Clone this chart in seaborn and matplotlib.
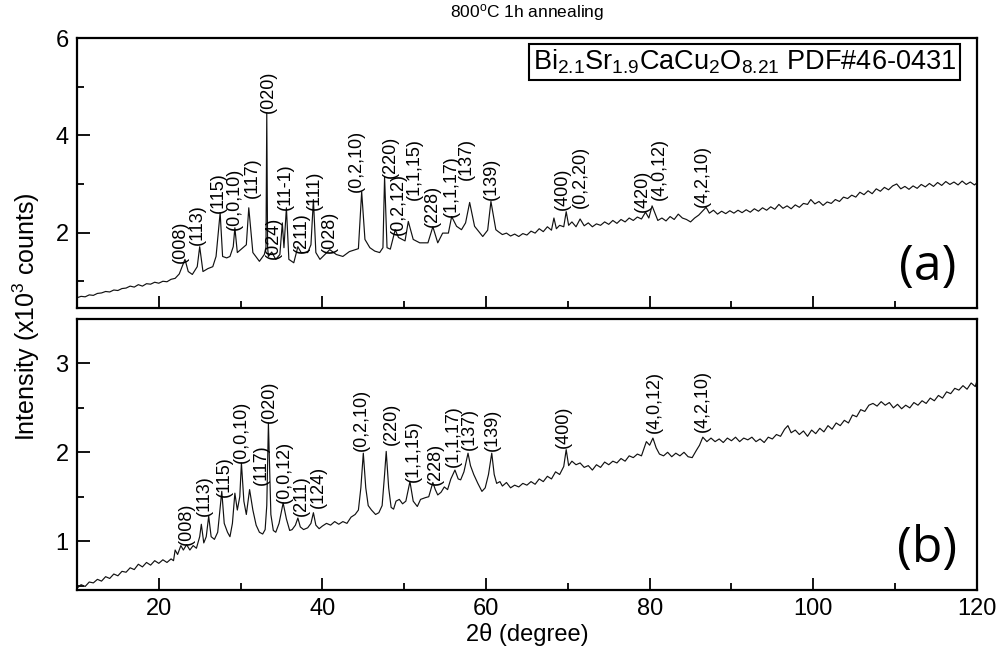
import matplotlib
matplotlib.use("Agg")
import matplotlib.pyplot as plt
import pandas as pd
import seaborn as sns
from matplotlib.ticker import MultipleLocator

# ---- panel (a): 2theta (deg) and intensity (x10^3 counts)
two_theta_a = [
    10.0, 10.5, 11.0, 11.5, 12.0, 12.5, 13.0, 13.5, 14.0, 14.5, 15.0, 15.5, 16.0, 16.5,
    17.0, 17.5, 18.0, 18.5, 19.0, 19.5, 20.0, 20.5, 21.0, 21.5, 22.0, 22.5, 22.8, 23.2,
    23.6, 24.1, 24.7, 25.0, 25.4, 26.0, 26.6, 27.0, 27.5, 27.8, 28.3, 28.7, 29.1, 29.3,
    29.6, 30.3, 30.7, 31.0, 31.5, 32.3, 32.9, 33.1, 33.2, 33.3, 33.4, 33.8, 34.3, 34.8,
    35.1, 35.3, 35.6, 35.9, 36.5, 37.0, 37.4, 38.2, 38.6, 38.9, 39.2, 39.7, 40.3, 40.9,
    41.7, 42.5, 43.3, 44.4, 44.8, 45.2, 45.8, 46.4, 47.0, 47.4, 47.6, 47.9, 48.3, 48.9,
    49.3, 50.1, 50.5, 51.1, 51.9, 52.9, 53.5, 54.1, 54.7, 55.4, 55.8, 56.4, 57.0, 57.5,
    58.0, 58.6, 59.6, 60.2, 60.6, 61.2,
    61.5, 62.0, 62.5, 63.0, 63.5, 64.0, 64.5, 65.0, 65.5, 66.0, 66.5, 67.0, 67.5, 68.0,
    68.3, 68.6, 69.0, 69.5, 69.8, 70.1, 70.5, 71.0, 71.5, 72.0, 72.5, 73.0, 73.5, 74.0,
    74.5, 75.0, 75.5, 76.0, 76.5, 77.0, 77.5, 78.0, 78.5, 79.0, 79.5, 79.9, 80.3, 80.7,
    81.0, 81.5, 82.0, 82.5, 83.0, 83.5, 84.0, 84.5, 85.0, 85.5, 86.0, 86.5, 86.9, 87.3,
    87.8, 88.3, 88.8, 89.3, 89.8, 90.3, 90.8, 91.3, 91.8, 92.3, 92.8, 93.3, 93.8, 94.3,
    94.8, 95.3, 95.8, 96.3, 96.8, 97.3, 97.8, 98.3, 98.8, 99.3, 99.7, 100.2, 100.7, 101.2,
    101.7, 102.2, 102.7, 103.2, 103.7, 104.2, 104.7, 105.2, 105.7, 106.2, 106.7, 107.2,
    107.7, 108.2, 108.7, 109.2, 109.7, 110.2, 110.7, 111.2, 111.7, 112.2, 112.7, 113.2,
    113.7, 114.2, 114.7, 115.2, 115.7, 116.2, 116.7, 117.2, 117.7, 118.2, 118.7, 119.2,
    119.7, 120.0,
]
counts_a = [
    0.66, 0.69, 0.68, 0.72, 0.71, 0.75, 0.76, 0.79, 0.78, 0.82, 0.81, 0.85, 0.86, 0.90,
    0.88, 0.93, 0.90, 0.95, 0.94, 0.98, 0.96, 1.00, 0.99, 1.04, 1.06, 1.15, 1.28, 1.45,
    1.20, 1.14, 1.30, 1.71, 1.20, 1.26, 1.30, 1.51, 2.41, 1.51, 1.48, 1.51, 1.71, 2.10,
    1.59, 1.69, 1.75, 2.51, 1.59, 1.41, 1.55, 1.70, 4.46, 1.70, 1.51, 1.60, 1.45, 1.55,
    2.20, 1.69, 2.51, 1.45, 1.38, 1.71, 1.59, 1.59, 1.75, 2.68, 1.59, 1.45, 1.55, 1.65,
    1.55, 1.51, 1.61, 1.67, 2.84, 1.86, 1.69, 1.62, 1.59, 1.69, 3.15, 1.69, 1.66, 2.06,
    1.90, 1.83, 2.23, 1.86, 1.79, 1.79, 2.12, 1.79, 1.99, 1.99, 2.33, 2.13, 2.06, 2.20,
    2.62, 2.13, 1.92, 2.05, 2.64, 2.06,
    2.02, 1.96, 1.99, 1.93, 1.97, 1.92, 1.98, 1.95, 2.03, 1.99, 2.08, 2.02, 2.12, 2.05,
    2.30, 2.08, 2.15, 2.12, 2.43, 2.15, 2.22, 2.12, 2.28, 2.14, 2.20, 2.12, 2.18, 2.15,
    2.22, 2.17, 2.25, 2.19, 2.27, 2.22, 2.30, 2.25, 2.32, 2.28, 2.42, 2.30, 2.55, 2.38,
    2.25, 2.30, 2.24, 2.33, 2.27, 2.38, 2.30, 2.27, 2.22, 2.30, 2.36, 2.45, 2.52, 2.40,
    2.46, 2.38, 2.44, 2.39, 2.45, 2.40, 2.46, 2.41, 2.47, 2.42, 2.49, 2.44, 2.51, 2.46,
    2.53, 2.48, 2.58, 2.50, 2.55, 2.49, 2.57, 2.52, 2.60, 2.58, 2.68, 2.59, 2.64, 2.56,
    2.63, 2.60, 2.68, 2.64, 2.73, 2.70, 2.77, 2.73, 2.83, 2.78, 2.86, 2.80,
    2.90, 2.85, 2.93, 2.88, 2.96, 3.00, 2.90, 2.95, 2.89, 2.96, 2.91, 2.99,
    2.94, 3.01, 2.95, 3.03, 2.97, 3.05, 2.99, 3.04, 2.98, 3.06, 2.99, 3.04,
    2.98, 3.02,
]
hkl_a = ["(008)", "(113)", "(115)", "(0,0,10)", "(117)", "(020)", "(024)", "(11-1)",
         "(211)", "(111)", "(028)", "(0,2,10)", "(220)", "(0,2,12)", "(1,1,15)", "(228)",
         "(1,1,17)", "(137)", "(139)", "(400)", "(0,2,20)", "(420)", "(4,0,12)", "(4,2,10)"]
hkl_a_x = [22.6, 24.7, 27.3, 29.3, 31.5, 33.4, 34.0, 35.5, 37.4, 39.0, 40.9, 44.1, 48.3,
           49.3, 51.3, 53.5, 55.8, 57.6, 60.6, 69.3, 71.5, 79.1, 81.2, 86.4]
hkl_a_y = [1.38, 1.75, 2.41, 2.06, 2.72, 4.46, 1.45, 2.47, 1.59, 2.47, 1.59, 2.84, 3.12,
           1.96, 2.68, 2.12, 2.33, 3.09, 2.68, 2.47, 2.51, 2.43, 2.68, 2.53]

# ---- panel (b)
two_theta_b = [
    10.0, 10.5, 11.0, 11.5, 12.0, 12.5, 13.0, 13.5, 14.0, 14.5, 15.0, 15.5, 16.0, 16.5,
    17.0, 17.5, 18.0, 18.5, 19.0, 19.5, 20.0, 20.5, 21.0, 21.5, 21.8, 22.0, 22.3, 22.7,
    23.0, 23.4, 23.8, 24.2, 24.6, 25.0, 25.2, 25.5, 25.8, 26.1, 26.4, 26.8, 27.2, 27.7,
    28.0, 28.4, 28.7, 29.0, 29.3, 29.6, 29.9, 30.1, 30.4, 30.7, 31.1, 31.5, 31.9, 32.3,
    32.7, 33.0, 33.2, 33.4, 33.7, 34.0, 34.3, 34.7, 35.2, 35.6, 36.0, 36.3, 36.7, 37.0,
    37.3, 37.7, 38.2, 38.6, 38.9, 39.2, 39.6, 40.0, 40.5, 41.0, 41.5, 42.0, 42.5, 43.0,
    43.5, 44.0, 44.4, 44.7, 45.0, 45.3, 45.6, 46.0, 46.5, 46.9, 47.3, 47.6, 47.8, 48.1,
    48.4, 48.7, 49.0, 49.4, 49.8, 50.2, 50.7, 51.1, 51.6, 52.0, 52.6, 53.0, 53.5, 53.8,
    54.1, 54.5, 54.9, 55.3, 55.7, 56.2, 56.6, 56.9, 57.3, 57.8, 58.1, 58.5, 59.0, 59.5,
    59.9, 60.3, 60.7, 61.0, 61.3, 61.7,
    62.0, 62.5, 63.0, 63.5, 64.0, 64.5, 65.0, 65.5, 66.0, 66.5, 67.0, 67.5, 68.0, 68.5,
    69.0, 69.5, 69.8, 70.1, 70.5, 71.0, 71.5, 72.0, 72.5, 73.0, 73.5, 74.0, 74.5, 75.0,
    75.5, 76.0, 76.5, 77.0, 77.5, 78.0, 78.5, 79.0, 79.6, 80.0, 80.4, 80.8, 81.2, 81.7,
    82.2, 82.7, 83.2, 83.7, 84.2, 84.7, 85.2, 85.7, 86.1, 86.5, 87.0, 87.5, 88.0, 88.5,
    89.0, 89.5, 90.0, 90.5, 91.0, 91.5, 92.0, 92.5, 93.0, 93.5, 94.0, 94.5, 95.0, 95.5,
    96.0, 96.5, 96.9, 97.3, 97.8, 98.3, 98.8, 99.3, 99.8, 100.3, 100.8, 101.3, 101.8,
    102.3, 102.8, 103.3, 103.8, 104.3, 104.8, 105.3, 105.8, 106.3, 106.8, 107.3, 107.8,
    108.3, 108.8, 109.3, 109.8, 110.3, 110.8, 111.3, 111.8, 112.3, 112.8, 113.3, 113.8,
    114.3, 114.8, 115.3, 115.8, 116.3, 116.8, 117.3, 117.8, 118.3, 118.8, 119.3, 119.8,
    120.0,
]
counts_b = [
    0.47, 0.51, 0.49, 0.54, 0.53, 0.57, 0.55, 0.60, 0.58, 0.63, 0.61, 0.66, 0.65, 0.70,
    0.68, 0.74, 0.71, 0.76, 0.73, 0.78, 0.75, 0.79, 0.76, 0.80, 0.78, 0.90, 0.85, 0.95,
    0.90, 0.96, 0.90, 0.95, 0.92, 1.05, 1.19, 0.98, 1.05, 1.28, 1.05, 1.02, 1.10, 1.56,
    1.20, 1.10, 1.05, 1.20, 1.54, 1.35, 1.50, 1.88, 1.45, 1.30, 1.58, 1.35, 1.18, 1.10,
    1.08, 1.13, 1.40, 2.33, 1.30, 1.12, 1.10, 1.20, 1.43, 1.25, 1.12, 1.13, 1.18, 1.26,
    1.16, 1.13, 1.15, 1.20, 1.32, 1.18, 1.14, 1.17, 1.20, 1.18, 1.22, 1.19, 1.22, 1.20,
    1.27, 1.30, 1.35, 1.60, 1.99, 1.60, 1.40, 1.35, 1.30, 1.32, 1.40, 1.75, 2.01, 1.60,
    1.38, 1.36, 1.45, 1.47, 1.42, 1.45, 1.67, 1.45, 1.39, 1.47, 1.49, 1.50, 1.66, 1.58,
    1.52, 1.55, 1.61, 1.58, 1.70, 1.80, 1.70, 1.69, 1.78, 1.99, 1.85, 1.75, 1.65, 1.56,
    1.60, 1.75, 1.99, 1.75, 1.65, 1.67,
    1.62, 1.66, 1.60, 1.63, 1.61, 1.65, 1.63, 1.67, 1.64, 1.70, 1.67, 1.73, 1.70, 1.78,
    1.75, 1.84, 2.03, 1.85, 1.90, 1.86, 1.88, 1.83, 1.85, 1.80, 1.86, 1.83, 1.89, 1.86,
    1.90, 1.88, 1.93, 1.90, 1.96, 1.94, 1.98, 1.96, 2.12, 2.08, 2.16, 2.05, 1.98, 1.96,
    2.00, 1.95, 1.99, 1.96, 2.00, 1.95, 1.94, 2.02, 2.08, 2.17, 2.12, 2.16, 2.12, 2.15,
    2.11, 2.16, 2.13, 2.17, 2.12, 2.16, 2.14, 2.17, 2.12, 2.15, 2.11, 2.17, 2.15, 2.20,
    2.18, 2.26, 2.30, 2.22, 2.25, 2.20, 2.24, 2.18, 2.25, 2.21, 2.27, 2.23, 2.30,
    2.26, 2.33, 2.30, 2.36, 2.33, 2.42, 2.40, 2.48, 2.46, 2.53, 2.55, 2.52,
    2.57, 2.53, 2.56, 2.50, 2.54, 2.49, 2.53, 2.50, 2.56, 2.53, 2.58, 2.55,
    2.61, 2.58, 2.64, 2.61, 2.68, 2.66, 2.72, 2.70, 2.75, 2.71, 2.78, 2.74,
    2.80,
]
hkl_b = ["(008)", "(113)", "(115)", "(0,0,10)", "(117)", "(020)", "(0,0,12)", "(211)",
         "(124)", "(0,2,10)", "(220)", "(1,1,15)", "(228)", "(1,1,17)", "(137)", "(139)",
         "(400)", "(4,0,12)", "(4,2,10)"]
hkl_b_x = [23.4, 25.6, 28.0, 30.1, 32.5, 33.5, 35.4, 37.4, 39.5, 44.8, 48.4, 51.1, 53.8,
           56.0, 58.0, 60.8, 69.4, 80.6, 86.5]
hkl_b_y = [0.96, 1.28, 1.50, 1.88, 1.63, 2.33, 1.43, 1.28, 1.37, 2.01, 2.08, 1.67, 1.63,
           1.83, 2.03, 2.01, 2.05, 2.22, 2.23]

sns.set_theme(style="ticks")
plt.rcParams["font.family"] = ["Liberation Sans", "DejaVu Sans"]
plt.rcParams["mathtext.fontset"] = "custom"
plt.rcParams["mathtext.rm"] = "Liberation Sans"
plt.rcParams["mathtext.it"] = "Liberation Sans:italic"
for key in ["text.color", "axes.labelcolor", "xtick.color", "ytick.color", "axes.edgecolor"]:
    plt.rcParams[key] = "black"

fig = plt.figure(figsize=(10.01, 6.59), dpi=100)
ax_a = fig.add_axes([0.0769, 0.5326, 0.899, 0.4097])
ax_b = fig.add_axes([0.0769, 0.1047, 0.899, 0.4112])

panels = [
    (ax_a, two_theta_a, counts_a, hkl_a, hkl_a_x, hkl_a_y, (0.45, 6.0), 2, 1, "(a)"),
    (ax_b, two_theta_b, counts_b, hkl_b, hkl_b_x, hkl_b_y, (0.45, 3.5), 1, 0.5, "(b)"),
]
for ax, tt, cc, labels, lx, ly, ylim, major, minor, tag in panels:
    df = pd.DataFrame({"two_theta": tt, "counts": cc})
    sns.lineplot(data=df, x="two_theta", y="counts", ax=ax, color="#111111",
                 linewidth=0.85, estimator=None, sort=False)
    for name, x, y in zip(labels, lx, ly):
        ax.text(x, y, name, rotation=90, ha="center", va="bottom", fontsize=13)
    ax.set_xlim(10, 120)
    ax.set_ylim(*ylim)
    ax.xaxis.set_major_locator(MultipleLocator(20))
    ax.xaxis.set_minor_locator(MultipleLocator(10))
    ax.yaxis.set_major_locator(MultipleLocator(major))
    ax.yaxis.set_minor_locator(MultipleLocator(minor))
    ax.tick_params(which="both", direction="in", top=False, right=False,
                   width=1.3, labelsize=17, pad=6)
    ax.tick_params(which="major", length=9)
    ax.tick_params(which="minor", length=5)
    for sp in ax.spines.values():
        sp.set_linewidth(1.6)
    ax.set_xlabel("")
    ax.set_ylabel("")
    ax.text(0.945, 0.15, tag, transform=ax.transAxes, ha="center", va="center",
            fontsize=36, family=["Open Sans", "DejaVu Sans"])

ax_a.tick_params(labelbottom=False)
ax_a.text(0.742, 0.911, r"Bi$_{2.1}$Sr$_{1.9}$CaCu$_2$O$_{8.21}$ PDF#46-0431",
          transform=ax_a.transAxes, ha="center", va="center", fontsize=19.5,
          bbox=dict(boxstyle="square,pad=0.15", fc="white", ec="black", lw=1.5))

ax_b.set_xlabel("2θ (degree)", fontsize=17, labelpad=2)
fig.text(0.527, 0.981, r"800$^{\rm o}$C 1h annealing", ha="center", va="center",
         fontsize=12.5)
fig.text(0.026, 0.52, r"Intensity (x10$^3$ counts)", rotation=90, ha="center",
         va="center", fontsize=18)

fig.savefig("out.png", dpi=100)
